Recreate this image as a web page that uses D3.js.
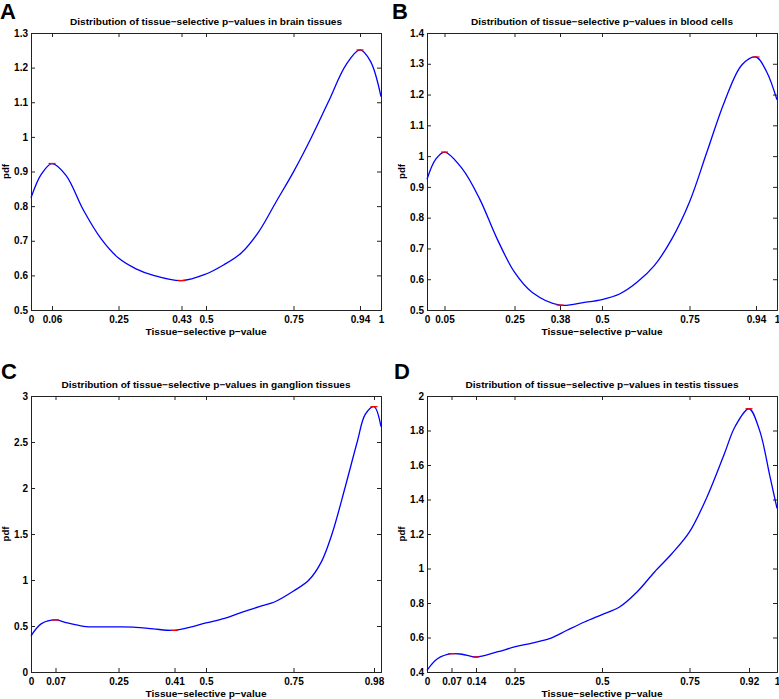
<!DOCTYPE html>
<html>
<head>
<meta charset="utf-8">
<script src="https://cdn.jsdelivr.net/npm/d3@7"></script>
<style>
  html, body { margin: 0; padding: 0; background: #fff; }
  svg { display: block; }
  text { font-family: "Liberation Sans", Arial, Helvetica, sans-serif; font-weight: bold; fill: #000; }
</style>
</head>
<body>
<svg id="chart" width="779" height="699"></svg>
<script>
// ---------- DATA ----------
const titles = [
  "Distribution of tissue\u2212selective p\u2212values in brain tissues",
  "Distribution of tissue\u2212selective p\u2212values in blood cells",
  "Distribution of tissue\u2212selective p\u2212values in ganglion tissues",
  "Distribution of tissue\u2212selective p\u2212values in testis tissues"
];
const panelLetters = ["A", "B", "C", "D"];
const xLabel = "Tissue\u2212selective p\u2212value";
const yLabel = "pdf";

// Panel A (brain)
const pA   = [0, 0.03, 0.06, 0.1, 0.15, 0.2, 0.25, 0.3, 0.35, 0.43, 0.5, 0.55, 0.6, 0.65, 0.7, 0.75, 0.8, 0.85, 0.9, 0.94, 0.97, 1.0];
const denA = [0.824, 0.893, 0.923, 0.889, 0.788, 0.706, 0.650, 0.619, 0.600, 0.585, 0.604, 0.630, 0.664, 0.725, 0.812, 0.899, 0.996, 1.102, 1.208, 1.251, 1.218, 1.116];
const xTicksA = [0, 0.06, 0.25, 0.43, 0.5, 0.75, 0.94, 1];
const yTicksA = [0.5, 0.6, 0.7, 0.8, 0.9, 1, 1.1, 1.2, 1.3];
const extA = [[0.06, 0.923], [0.43, 0.585], [0.94, 1.251]];

// Panel B (blood)
const pB   = [0, 0.025, 0.05, 0.1, 0.15, 0.2, 0.25, 0.3, 0.38, 0.45, 0.5, 0.55, 0.6, 0.65, 0.7, 0.75, 0.8, 0.85, 0.9, 0.94, 0.97, 1.0];
const denB = [0.925, 0.990, 1.013, 0.960, 0.862, 0.732, 0.623, 0.558, 0.516, 0.525, 0.534, 0.552, 0.590, 0.645, 0.732, 0.851, 1.014, 1.177, 1.297, 1.322, 1.275, 1.183];
const xTicksB = [0, 0.05, 0.25, 0.38, 0.5, 0.75, 0.94, 1];
const yTicksB = [0.5, 0.6, 0.7, 0.8, 0.9, 1, 1.1, 1.2, 1.3, 1.4];
const extB = [[0.05, 1.013], [0.38, 0.516], [0.94, 1.322]];

// Panel C (ganglion)
const pC   = [0, 0.03, 0.07, 0.1, 0.15, 0.2, 0.25, 0.3, 0.35, 0.41, 0.45, 0.5, 0.55, 0.6, 0.65, 0.7, 0.75, 0.794, 0.83, 0.86, 0.897, 0.932, 0.955, 0.98, 1.0];
const denC = [0.392, 0.526, 0.566, 0.537, 0.497, 0.490, 0.490, 0.486, 0.468, 0.453, 0.482, 0.533, 0.580, 0.646, 0.707, 0.769, 0.880, 1.000, 1.200, 1.500, 2.000, 2.500, 2.800, 2.884, 2.666];
const xTicksC = [0, 0.07, 0.25, 0.41, 0.5, 0.75, 0.98];
const yTicksC = [0, 0.5, 1, 1.5, 2, 2.5, 3];
const extC = [[0.07, 0.566], [0.41, 0.453], [0.98, 2.884]];

// Panel D (testis)
const pD   = [0, 0.03, 0.07, 0.1, 0.14, 0.2, 0.25, 0.3, 0.35, 0.4, 0.45, 0.5, 0.55, 0.6, 0.65, 0.7, 0.75, 0.8, 0.85, 0.88, 0.92, 0.95, 0.98, 1.0];
const denD = [0.410, 0.477, 0.506, 0.503, 0.487, 0.516, 0.545, 0.568, 0.593, 0.642, 0.690, 0.733, 0.777, 0.864, 0.980, 1.087, 1.212, 1.415, 1.667, 1.822, 1.926, 1.802, 1.532, 1.348];
const xTicksD = [0, 0.07, 0.14, 0.25, 0.5, 0.75, 0.92, 1];
const yTicksD = [0.4, 0.6, 0.8, 1, 1.2, 1.4, 1.6, 1.8, 2];
const extD = [[0.07, 0.506], [0.14, 0.487], [0.92, 1.926]];

const yDomains = [[0.5, 1.3], [0.5, 1.4], [0, 3], [0.4, 2]];

// ---------- LAYOUT ----------
const panels = [
  { p: pA, d: denA, xt: xTicksA, yt: yTicksA, ext: extA, box: { l: 31, r: 381, t: 33, b: 310 }, letter: { x: 0, y: 19 }, tw: 272 },
  { p: pB, d: denB, xt: xTicksB, yt: yTicksB, ext: extB, box: { l: 427, r: 777, t: 33, b: 310 }, letter: { x: 392, y: 19 }, tw: 262 },
  { p: pC, d: denC, xt: xTicksC, yt: yTicksC, ext: extC, box: { l: 31, r: 381, t: 396, b: 672 }, letter: { x: 1, y: 379 }, tw: 289 },
  { p: pD, d: denD, xt: xTicksD, yt: yTicksD, ext: extD, box: { l: 427, r: 777, t: 396, b: 672 }, letter: { x: 394, y: 379 }, tw: 273 }
];

const svg = d3.select("#chart");
const tickLen = 4;

panels.forEach((P, i) => {
  const B = P.box;
  const x = d3.scaleLinear().domain([0, 1]).range([B.l, B.r]);
  const y = d3.scaleLinear().domain(yDomains[i]).range([B.b, B.t]);
  const g = svg.append("g");

  // panel letter
  g.append("text").attr("x", P.letter.x).attr("y", P.letter.y)
    .style("font-size", "22px").text(panelLetters[i]);

  // title
  g.append("text").attr("x", (B.l + B.r) / 2).attr("y", B.t - 8)
    .attr("text-anchor", "middle").style("font-size", "9.2px")
    .attr("textLength", P.tw).attr("lengthAdjust", "spacingAndGlyphs")
    .text(titles[i]);

  // axes (inward ticks, MATLAB style, box on)
  const fmt = v => String(v);
  const bottom = d3.axisBottom(x).tickValues(P.xt).tickSize(-tickLen).tickPadding(6).tickFormat(fmt);
  const top = d3.axisTop(x).tickValues(P.xt).tickSize(-tickLen).tickFormat("");
  const left = d3.axisLeft(y).tickValues(P.yt).tickSize(-tickLen).tickPadding(3).tickFormat(fmt);
  const right = d3.axisRight(y).tickValues(P.yt).tickSize(-tickLen).tickFormat("");

  const ab = g.append("g").attr("transform", `translate(0,${B.b})`).call(bottom);
  const at = g.append("g").attr("transform", `translate(0,${B.t})`).call(top);
  const al = g.append("g").attr("transform", `translate(${B.l},0)`).call(left);
  const ar = g.append("g").attr("transform", `translate(${B.r},0)`).call(right);
  [ab, at, al, ar].forEach(a => {
    a.select(".domain").attr("stroke", "#222").attr("stroke-width", 1);
    a.selectAll(".tick line").attr("stroke", "#222");
    a.selectAll("text").style("font-size", "10px").style("font-family", "'Liberation Sans', Arial, sans-serif").style("font-weight", "bold").attr("fill", "#000");
  });

  // x label
  g.append("text").attr("x", (B.l + B.r) / 2).attr("y", B.b + 25)
    .attr("text-anchor", "middle").style("font-size", "9.6px")
    .attr("textLength", 121).attr("lengthAdjust", "spacingAndGlyphs")
    .text(xLabel);
  // y label
  g.append("text").attr("transform", `translate(${B.l - 22},${(B.t + B.b) / 2}) rotate(-90)`)
    .attr("text-anchor", "middle").style("font-size", "9.6px").text(yLabel);

  // curve
  const pts = P.p.map((v, k) => [v, P.d[k]]);
  const line = d3.line().x(d => x(d[0])).y(d => y(d[1])).curve(d3.curveCatmullRom.alpha(0.5));
  g.append("path").datum(pts).attr("d", line)
    .attr("fill", "none").attr("stroke", "#0000ff").attr("stroke-width", 1.3);

  // red extremum marks
  g.selectAll(".ext").data(P.ext).enter().append("line")
    .attr("x1", d => x(d[0]) - 3.5).attr("x2", d => x(d[0]) + 3.5)
    .attr("y1", d => y(d[1])).attr("y2", d => y(d[1]))
    .attr("stroke", "#ff0000").attr("stroke-width", 1.3);
});
</script>
</body>
</html>
